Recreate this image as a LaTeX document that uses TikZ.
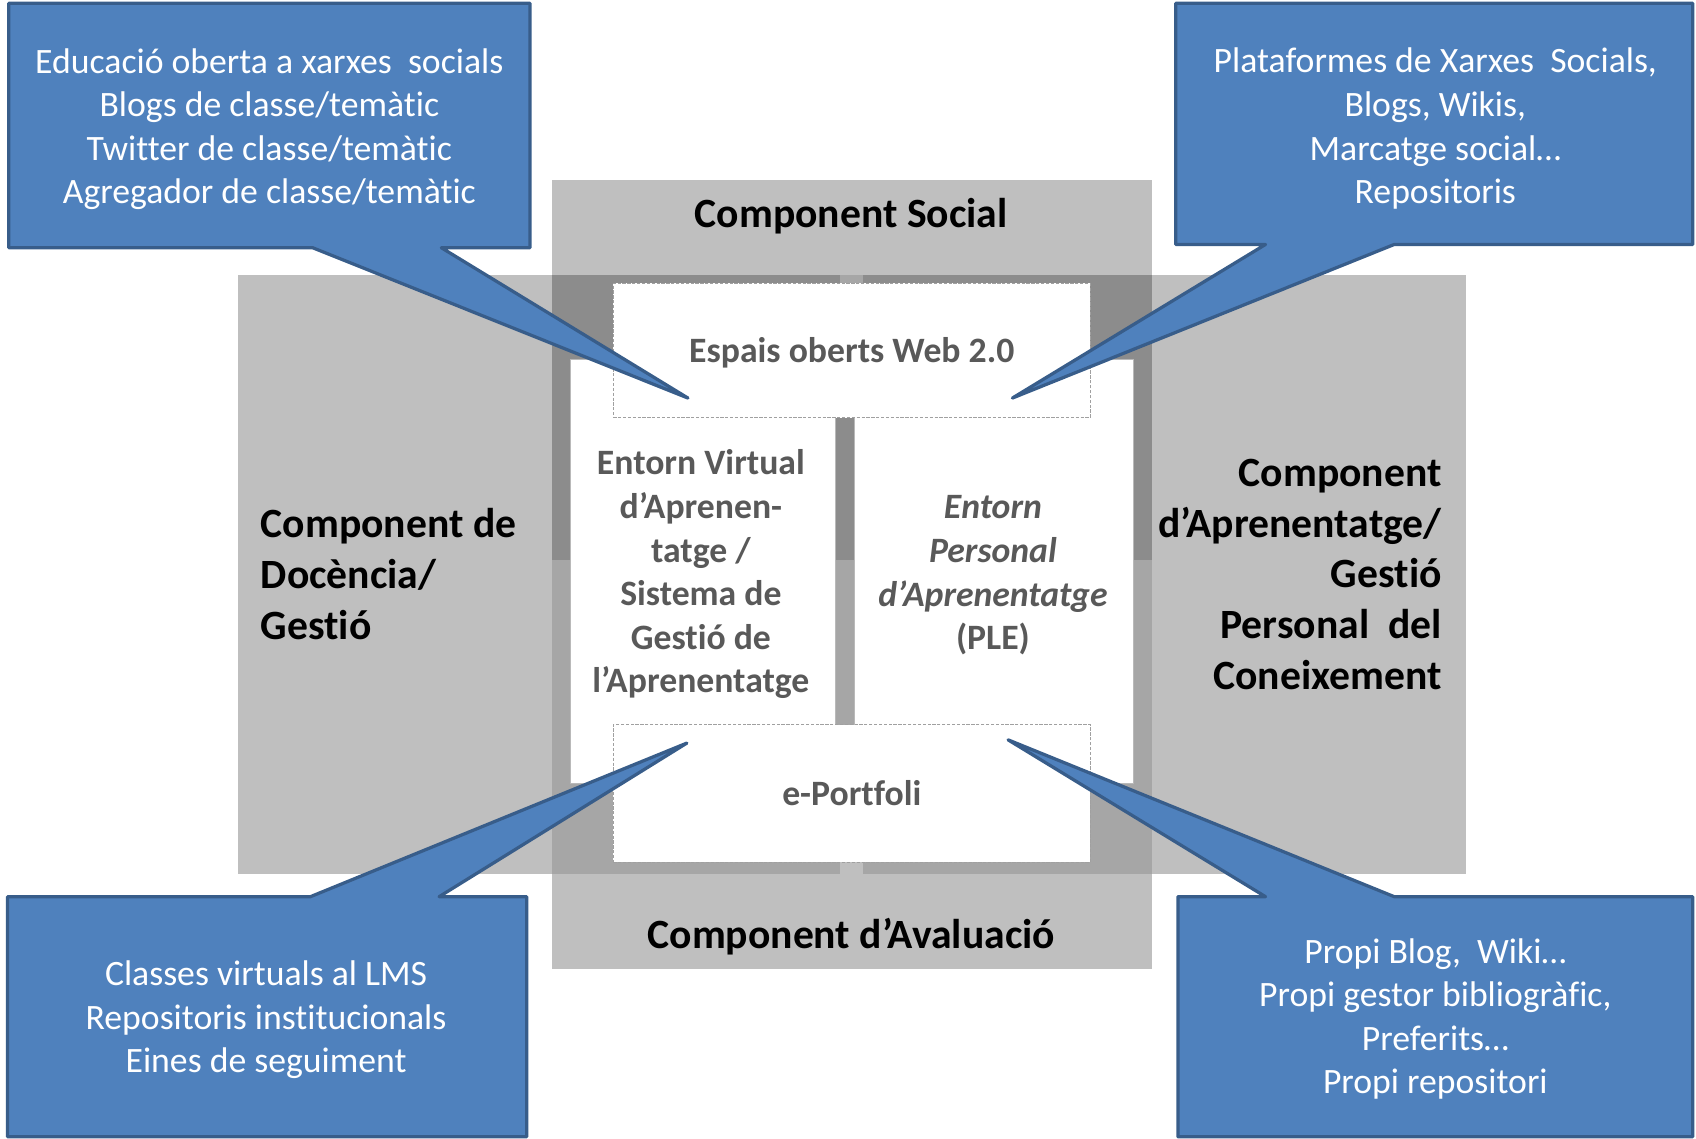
\documentclass[tikz,border=0pt]{standalone}
\usepackage{fontspec}
\setmainfont{Carlito}[Ligatures={NoCommon}]
\definecolor{cfill}{HTML}{4F81BD}
\definecolor{cborder}{HTML}{385D8A}
\definecolor{lightg}{HTML}{BFBFBF}
\definecolor{midg}{HTML}{A6A6A6}
\definecolor{darkg}{HTML}{8C8C8C}
\definecolor{txtg}{HTML}{595959}
\definecolor{dashg}{HTML}{A0A0A0}
\begin{document}
\begin{tikzpicture}[x=1pt,y=-1pt,
  callout/.style={fill=cfill,draw=cborder,line width=3pt,line join=round},
  ctext/.style={text=white,font=\fontsize{33}{40.3}\selectfont,align=center,inner sep=0pt},
  comp/.style={font=\bfseries\fontsize{38.5}{47}\selectfont,inner sep=0pt},
  intext/.style={text=txtg,font=\bfseries\fontsize{33}{40.3}\selectfont,align=center,inner sep=0pt},
  dbox/.style={intext,fill=white,draw=dashg,line width=1pt,dash pattern=on 3pt off 1.5pt},
  wbox/.style={intext,fill=white,draw=gray!55,line width=0.8pt}]
\useasboundingbox (0,0) rectangle (1568,1053);
% gray components
\fill[lightg] (510,166) rectangle (1065,896);
\fill[lightg] (220,254) rectangle (1355,808);
\fill[darkg] (510,254) rectangle (1065,518);
\fill[midg] (510,518) rectangle (1065,808);
\fill[midg] (777,254) rectangle (798,262);
\fill[lightg] (777,797) rectangle (798,808);
% white boxes
\node[wbox,minimum width=245pt,minimum height=392pt] (evabox) at (649.5,528) {};
\node[wbox,minimum width=258pt,minimum height=392pt] (plebox) at (919,528) {};
\node[intext] (eva) at (648,531) {Entorn Virtual\\d’Aprenen-\\tatge /\\Sistema de\\Gestió de\\l’Aprenentatge};
\node[intext] (ple) at (918,532) {{\itshape Entorn}\\{\itshape Personal}\\{\itshape d’Aprenentatge}\\(PLE)};
\node[dbox,minimum width=441pt,minimum height=124pt,text depth=0pt] (web) at (787.5,324) {};
\node[intext] (webt) at (787.5,326) {Espais oberts Web 2.0};
\node[dbox,minimum width=441pt,minimum height=127pt] (port) at (787.5,733.5) {};
\node[intext] (portt) at (787.5,733) {e-Portfoli};
% component labels
\node[comp] (social) at (787,200) {Component Social};
\node[comp] (aval) at (787,866) {Component d’Avaluació};
\node[comp,anchor=west,align=left] (doc) at (241,531) {Component de\\Docència/\\Gestió};
\node[comp,anchor=east,align=right] (apr) at (1333,531) {Component\\d’Aprenentatge/\\Gestió\\Personal\ \ del\\Coneixement};
% callouts
\coordinate (tipTL) at (636,368);
\coordinate (tipTR) at (936,368);
\coordinate (tipBL) at (635,687);
\coordinate (tipBR) at (932,684);
\draw[callout] (8,3) -- (490,3) -- (490,229) -- (408,229) -- (tipTL) -- (289,229) -- (8,229) -- cycle;
\draw[callout] (1087,3) -- (1565,3) -- (1565,226) -- (1289,226) -- (tipTR) -- (1170,226) -- (1087,226) -- cycle;
\draw[callout] (7,829) -- (287,829) -- (tipBL) -- (406,829) -- (487,829) -- (487,1051) -- (7,1051) -- cycle;
\draw[callout] (1089,829) -- (1170,829) -- (tipBR) -- (1289,829) -- (1565,829) -- (1565,1051) -- (1089,1051) -- cycle;
\node[ctext] (tl) at (249,119.5) {Educació oberta a xarxes\ \ socials\\Blogs de classe/temàtic\\Twitter de classe/temàtic\\Agregador de classe/temàtic};
\node[ctext] (tr) at (1327,119) {Plataformes de Xarxes\ \ Socials,\\Blogs, Wikis,\\Marcatge social…\\Repositoris};
\node[ctext] (bl) at (246,943) {Classes virtuals al LMS\\Repositoris institucionals\\Eines de seguiment};
\node[ctext] (br) at (1327,942) {Propi Blog,\ \ Wiki…\\Propi gestor bibliogràfic,\\Preferits…\\Propi repositori};
\end{tikzpicture}
\end{document}
